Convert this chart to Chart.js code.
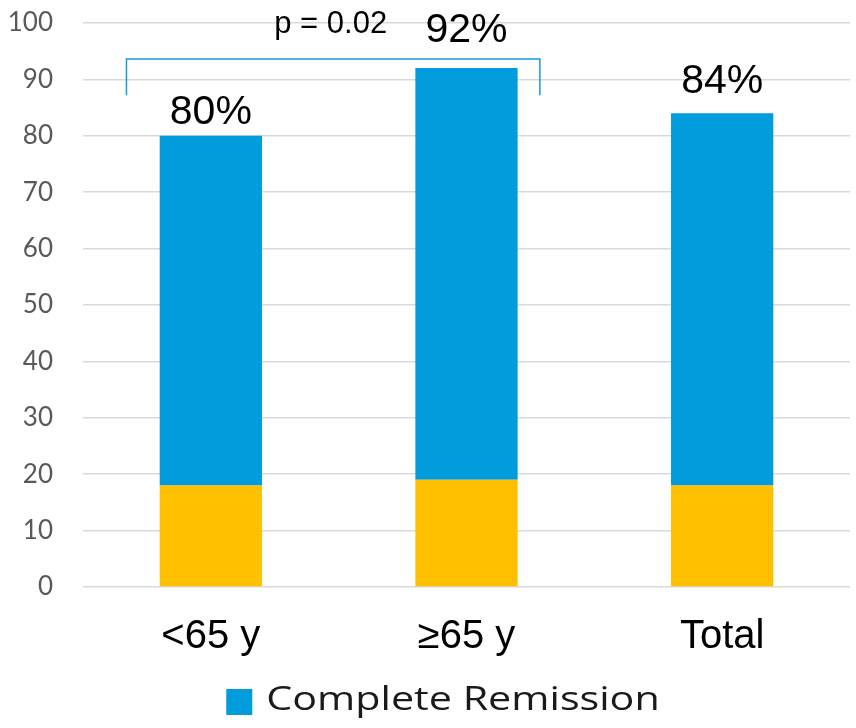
<!DOCTYPE html>
<html>
<head>
<meta charset="utf-8">
<script src="https://cdn.jsdelivr.net/npm/chart.js@4"></script>
<style>
  html, body { margin: 0; padding: 0; background: #fff; }
  #wrap { width: 856px; height: 728px; }
</style>
</head>
<body>
<div id="wrap"><canvas id="c" width="856" height="728"></canvas></div>
<script>
// Response by age group
const categories = ['<65 y', '\u226565 y', 'Total'];
const remissionTotal = [80, 92, 84];   // % complete remission (bar top)
const lowerSegment = [18, 19, 18];     // yellow base part of each bar
const yTicks = [0, 10, 20, 30, 40, 50, 60, 70, 80, 90, 100];
const seriesNames = ['', 'Complete Remission'];
const pValueText = 'p = 0.02';
const comparedGroups = [0, 1];         // bracket spans these categories
const bracketLevels = [93.6, 87.2];    // bracket top / foot on the y scale

const upperSegment = remissionTotal.map((t, i) => t - lowerSegment[i]);

const BLUE = '#009cdb';
const YELLOW = '#ffc000';

// vertical gap between bar top and its percentage label
const labelLift = [12, 26, 20];

const annotations = {
  id: 'annotations',
  afterDatasetsDraw(chart) {
    const { ctx, scales: { x, y } } = chart;
    ctx.save();
    // percentage labels
    ctx.font = '41px "Liberation Sans", Arial, sans-serif';
    ctx.fillStyle = '#000';
    ctx.textAlign = 'center';
    ctx.textBaseline = 'alphabetic';
    remissionTotal.forEach((v, i) => {
      ctx.fillText(v + '%', x.getPixelForValue(i), y.getPixelForValue(v) - labelLift[i]);
    });

    // significance bracket
    const band = x.getPixelForValue(1) - x.getPixelForValue(0);
    const xl = x.getPixelForValue(comparedGroups[0]) - 0.33 * band;
    const xr = x.getPixelForValue(comparedGroups[1]) + 0.287 * band;
    const yt = y.getPixelForValue(bracketLevels[0]);
    const yb = y.getPixelForValue(bracketLevels[1]);
    ctx.strokeStyle = '#1a9bd7';
    ctx.lineWidth = 1.5;
    ctx.beginPath();
    ctx.moveTo(xl, yb);
    ctx.lineTo(xl, yt);
    ctx.lineTo(xr, yt);
    ctx.lineTo(xr, yb);
    ctx.stroke();

    ctx.font = '31px "Liberation Sans", Arial, sans-serif';
    const mid = (x.getPixelForValue(comparedGroups[0]) + x.getPixelForValue(comparedGroups[1])) / 2;
    ctx.fillText(pValueText, mid - 8, y.getPixelForValue(98.2));
    ctx.restore();
  },
  // legend row under the axis, only the remission series is listed
  afterDraw(chart) {
    const { ctx } = chart;
    const ds = chart.data.datasets[1];
    const stretch = 1.25;
    ctx.save();
    ctx.font = '33px "Open Sans", Lato, sans-serif';
    ctx.textBaseline = 'alphabetic';
    ctx.textAlign = 'left';
    const box = 26, gap = 14;
    const tw = ctx.measureText(ds.label).width * stretch;
    const left = chart.width / 2 + 15 - (box + gap + tw) / 2;
    const top = chart.height - 39;
    ctx.fillStyle = ds.backgroundColor;
    ctx.fillRect(left, top, box, box);
    ctx.fillStyle = '#1a1a1a';
    ctx.translate(left + box + gap, top + 21);
    ctx.scale(stretch, 1);
    ctx.fillText(ds.label, 0, 0);
    ctx.restore();
  }
};

new Chart(document.getElementById('c'), {
  type: 'bar',
  data: {
    labels: categories,
    datasets: [
      { label: seriesNames[0], data: lowerSegment, backgroundColor: YELLOW, borderWidth: 0 },
      { label: seriesNames[1], data: upperSegment, backgroundColor: BLUE, borderWidth: 0 }
    ]
  },
  options: {
    responsive: false,
    devicePixelRatio: 1,
    animation: false,
    layout: { padding: { top: 23, right: 6, bottom: 70, left: 0 } },
    datasets: { bar: { barPercentage: 0.4, categoryPercentage: 1.0 } },
    scales: {
      x: {
        stacked: true,
        grid: { display: false },
        border: { display: false },
        ticks: {
          color: '#000',
          font: { family: '"Liberation Sans", Arial, sans-serif', size: 40 },
          padding: 18
        },
        afterFit(scale) { scale.height = 71; scale.paddingTop = 0; scale.paddingBottom = 0; }
      },
      y: {
        stacked: true,
        min: 0,
        max: 100,
        afterBuildTicks(scale) { scale.ticks = yTicks.map(v => ({ value: v })); },
        grid: { color: '#d9d9d9', lineWidth: 1.5, drawTicks: false },
        border: { display: false },
        ticks: {
          color: '#595959',
          font: { family: 'Lato, "Open Sans", sans-serif', size: 26 },
          padding: 30
        },
        afterFit(scale) { scale.width = 83; scale.paddingTop = 0; scale.paddingBottom = 0; }
      }
    },
    plugins: {
      legend: { display: false },
      tooltip: { enabled: false }
    }
  },
  plugins: [annotations]
});
</script>
</body>
</html>
